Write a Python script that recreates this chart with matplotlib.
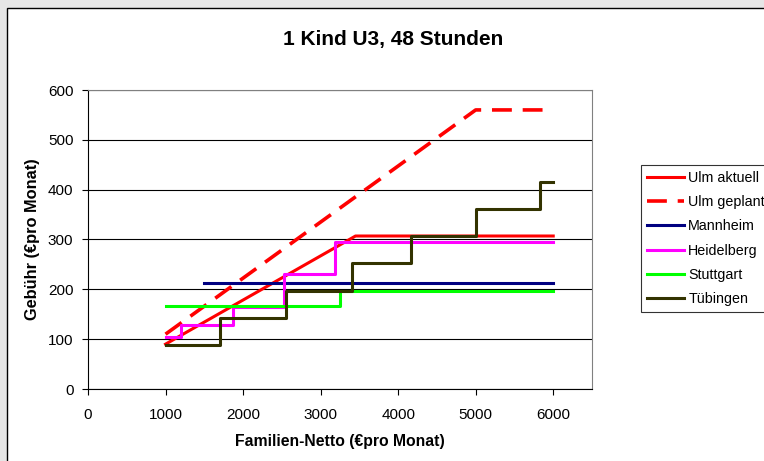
import numpy as np
import matplotlib.pyplot as plt
from matplotlib.patches import Rectangle

plt.rcParams['font.family'] = ['Liberation Sans', 'DejaVu Sans']

# Ulm aktuell / geplant (linear with cap)
ulm_akt_x = [1000, 3450, 6000]
ulm_akt_y = [90, 307, 307]
ulm_gep_x = [1000, 5000, 6000]
ulm_gep_y = [110, 560, 560]

# step series (value holds until next x)
mannheim_x = [1500, 6000]
mannheim_y = [212, 212]
heidelberg_x = [1000, 1200, 1875, 2525, 3190, 6000]
heidelberg_y = [105, 128, 164, 230, 294, 294]
stuttgart_x = [1000, 3250, 6000]
stuttgart_y = [167, 196, 196]
tuebingen_x = [1000, 1700, 2560, 3410, 4165, 5000, 5830, 6000]
tuebingen_y = [89, 142, 197, 252, 307, 361, 416, 416]

W, H = 764, 461
fig = plt.figure(figsize=(W / 100, H / 100), dpi=100)
fig.patch.set_facecolor('#e6e6e6')
fig.patches.append(Rectangle((7 / W, -0.05), 1.1, 1 - 8 / H + 0.05,
                             transform=fig.transFigure, facecolor='white',
                             edgecolor='black', linewidth=1.0, zorder=-10))

ax = fig.add_axes([88 / W, 1 - 389 / H, (592 - 88) / W, (389 - 90) / H])
ax.set_facecolor('white')

ax.plot(ulm_akt_x, ulm_akt_y, color='#ff0000', lw=2.2, label='Ulm aktuell')
ax.plot(ulm_gep_x, ulm_gep_y, color='#ff0000', lw=2.6, dashes=(5.5, 3),
        label='Ulm geplant')
ax.plot(mannheim_x, mannheim_y, color='#000080', lw=2.2, drawstyle='steps-post',
        label='Mannheim')
ax.plot(heidelberg_x, heidelberg_y, color='#ff00ff', lw=2.2, drawstyle='steps-post',
        label='Heidelberg')
ax.plot(stuttgart_x, stuttgart_y, color='#00ff00', lw=2.2, drawstyle='steps-post',
        label='Stuttgart')
ax.plot(tuebingen_x, tuebingen_y, color='#333300', lw=2.2, drawstyle='steps-post',
        label='Tübingen')

ax.set_xlim(0, 6500)
ax.set_ylim(0, 600)
ax.set_xticks(np.arange(0, 7000, 1000))
ax.set_yticks(np.arange(0, 700, 100))
ax.yaxis.grid(True, color='black', lw=0.8)
ax.set_axisbelow(True)
for s in ['top', 'right']:
    ax.spines[s].set_color('#808080')
for s in ['left', 'bottom']:
    ax.spines[s].set_color('black')
ax.tick_params(direction='out', length=4.5, labelsize=11, pad=6)
ax.tick_params(axis='x', pad=9)

ax.set_xlabel('Familien-Netto (€pro Monat)', fontsize=11.3, fontweight='bold', labelpad=9)
ax.set_ylabel('Gebühr (€pro Monat)', fontsize=11.8, fontweight='bold', labelpad=6)
fig.text(393 / W, 1 - 40 / H, '1 Kind U3, 48 Stunden', ha='center', va='center',
         fontsize=15, fontweight='bold')

leg = fig.legend(loc='upper left', bbox_to_anchor=(641 / W, 1 - 165 / H),
                 fontsize=10.3, frameon=True, fancybox=False, handlelength=2.6,
                 handletextpad=0.3, labelspacing=0.72, borderpad=0.4,
                 borderaxespad=0)
leg.get_frame().set_edgecolor('black')
leg.get_frame().set_linewidth(0.8)

fig.savefig('out.png', dpi=100)
